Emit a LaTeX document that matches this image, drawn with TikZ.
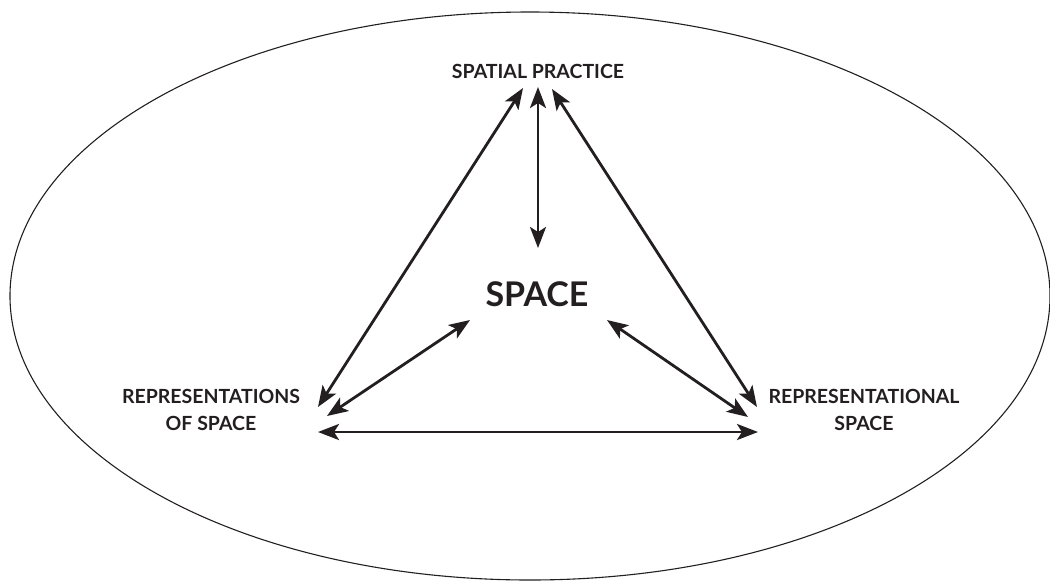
\documentclass[tikz,border=0pt]{standalone}
\usepackage{fontspec}
\setmainfont{Lato}
\usetikzlibrary{arrows.meta}
\definecolor{ink}{HTML}{231F20}
\begin{document}
\begin{tikzpicture}[x=1pt,y=-1pt,
  lbl/.style={font=\bfseries\fontsize{19.5}{27}\selectfont, text=ink, align=center, inner sep=0pt},
  big/.style={font=\bfseries\fontsize{34}{38}\selectfont, text=ink, inner sep=0pt},
  tip/.style={},
  link/.style={draw=ink, line width=2.8pt, {Stealth[length=21pt,width=16pt,inset=5pt]}-{Stealth[length=21pt,width=16pt,inset=5pt]}}]
\useasboundingbox (0,0) rectangle (1050,582);
\draw[line width=1.1pt, draw=ink] (530,296) ellipse [x radius=520, y radius=284];
\node[lbl, anchor=base] (sp) at (538,78) {SPATIAL PRACTICE};
\node[big, anchor=base] (space) at (537,306) {SPACE};
\node[lbl, anchor=base] (ros) at (211,430) {REPRESENTATIONS\\OF SPACE};
\node[lbl, anchor=base] (rsp) at (864,430) {REPRESENTATIONAL\\SPACE};
% arrow end points
\coordinate (spL) at (523,88);
\coordinate (spC) at (538,87);
\coordinate (spR) at (552,89);
\coordinate (spaceT) at (538,248);
\coordinate (spaceL) at (470,320);
\coordinate (spaceR) at (607,320);
\coordinate (rosT) at (318,407);
\coordinate (rosS) at (327,416);
\coordinate (rosH) at (318,432);
\coordinate (rspT) at (757,407);
\coordinate (rspS) at (748,417);
\coordinate (rspH) at (758,432);
\draw[link] (spL) -- (rosT);
\draw[link] (spC) -- (spaceT);
\draw[link] (spR) -- (rspT);
\draw[link] (rosS) -- (spaceL);
\draw[link] (rspS) -- (spaceR);
\draw[link] (rosH) -- (rspH);
\end{tikzpicture}
\end{document}
